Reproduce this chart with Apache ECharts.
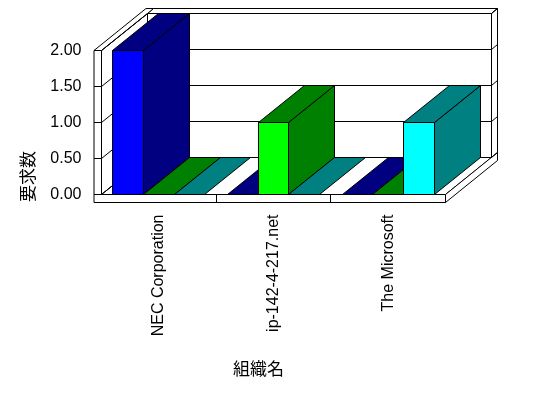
<!DOCTYPE html>
<html>
<head>
<meta charset="utf-8">
<script src="https://cdn.jsdelivr.net/npm/echarts@6/dist/echarts.min.js"></script>
<style>
html, body { margin: 0; padding: 0; background: #fff; }
#picture { width: 548px; height: 398px; }
</style>
</head>
<body>
<div id="picture"></div>
<script>
var categories = ['NEC Corporation', 'ip-142-4-217.net', 'The Microsoft'];
var series1 = [2, 0, 0];
var series2 = [0, 1, 0];
var series3 = [0, 0, 1];
var yTicks = [0, 0.5, 1, 1.5, 2];

var faceColors = ['#0000ff', '#00ff00', '#00ffff'];
var sideColors = ['#000080', '#008000', '#008080'];

// oblique 3d look
var DX = 46, DY = -37;      // depth offset
var TX = 6, TY = -5;        // back wall thickness
var WALL = 7.5, FLOOR = 8;  // left wall / floor thickness
var BAR_RATIO = 0.2667;

function px(v) { return Math.round(v - 0.5) + 0.5; }

function poly(pts, fill) {
    return { type: 'polygon', shape: { points: pts }, style: { fill: fill, stroke: '#000', lineWidth: 1 } };
}
function line(x1, y1, x2, y2) {
    return { type: 'line', shape: { x1: x1, y1: y1, x2: x2, y2: y2 }, style: { stroke: '#000', lineWidth: 1 } };
}

function renderFrame(params, api) {
    var n = categories.length;
    var cw = api.size([1, 0])[0];
    var x0 = px(api.coord([0, 0])[0] - cw / 2);
    var x1 = px(api.coord([n - 1, 0])[0] + cw / 2);
    var y0 = px(api.coord([0, yTicks[0]])[1]);
    var y1 = px(api.coord([0, yTicks[yTicks.length - 1]])[1]);
    var els = [];
    // back wall
    els.push(poly([[x0 + DX, y1 + DY], [x1 + DX, y1 + DY], [x1 + DX, y0 + DY], [x0 + DX, y0 + DY]], '#fff'));
    els.push(poly([[x0 + DX, y1 + DY], [x1 + DX, y1 + DY], [x1 + DX + TX, y1 + DY + TY], [x0 + DX + TX, y1 + DY + TY]], '#fff'));
    els.push(poly([[x1 + DX, y1 + DY], [x1 + DX + TX, y1 + DY + TY], [x1 + DX + TX, y0 + DY + TY], [x1 + DX, y0 + DY]], '#fff'));
    // left wall inner side
    els.push(poly([[x0, y1], [x0 + DX, y1 + DY], [x0 + DX, y0 + DY], [x0, y0]], '#fff'));
    // floor
    els.push(poly([[x0, y0], [x1, y0], [x1 + DX, y0 + DY], [x0 + DX, y0 + DY]], '#fff'));
    els.push(poly([[x1, y0], [x1 + DX + TX, y0 + DY + TY], [x1 + DX + TX, y0 + FLOOR + DY + TY], [x1, y0 + FLOOR]], '#fff'));
    // left wall top
    els.push(poly([[x0 - WALL, y1], [x0, y1], [x0 + DX, y1 + DY], [x0 + DX + TX, y1 + DY + TY], [x0 - WALL + DX + TX, y1 + DY + TY]], '#fff'));
    // front of left wall + floor
    els.push(poly([[x0 - WALL, y1], [x0, y1], [x0, y0], [x1, y0], [x1, y0 + FLOOR], [x0 - WALL, y0 + FLOOR]], '#fff'));

    yTicks.forEach(function (t) {
        var y = px(api.coord([0, t])[1]);
        els.push(line(x0 + DX, y + DY, x1 + DX, y + DY));
        els.push(line(x0, y, x0 + DX, y + DY));
        els.push(line(x1 + DX, y + DY, x1 + DX + TX, y + DY + TY));
        els.push(line(x0 - WALL, y, x0, y));
    });
    for (var i = 1; i < n; i++) {
        var xb = px(api.coord([i, 0])[0] - cw / 2);
        els.push(line(xb, y0, xb, y0 + FLOOR));
    }
    return { type: 'group', children: els };
}

var allSeries = [series1, series2, series3];
var barData = [];
categories.forEach(function (c, i) {
    allSeries.forEach(function (arr, s) {
        barData.push([i, arr[i], s]);
    });
});

function renderBar(params, api) {
    var ci = api.value(0), v = api.value(1), s = api.value(2);
    var cw = api.size([1, 0])[0];
    var bw = cw * BAR_RATIO;
    var left = api.coord([ci, 0])[0] - cw / 2 + (cw - 3 * bw) / 2 + s * bw;
    var L = px(left), R = px(left + bw);
    var yb = px(api.coord([ci, 0])[1]);
    var yt = px(api.coord([ci, v])[1]);
    var els = [];
    if (v > 0) {
        els.push(poly([[R, yt], [R + DX, yt + DY], [R + DX, yb + DY], [R, yb]], sideColors[s]));
    }
    els.push(poly([[L, yt], [R, yt], [R + DX, yt + DY], [L + DX, yt + DY]], sideColors[s]));
    if (v > 0) {
        els.push(poly([[L, yt], [R, yt], [R, yb], [L, yb]], faceColors[s]));
    }
    return { type: 'group', children: els };
}

var myChart = echarts.init(document.getElementById('picture'));
var option = {
    backgroundColor: '#fff',
    animation: false,
    grid: { left: 101.5, top: 50.5, width: 344, height: 144 },
    xAxis: {
        type: 'category',
        data: categories,
        axisLine: { show: false },
        axisTick: { show: false },
        axisLabel: {
            interval: 0, rotate: 90, margin: 20,
            color: '#000', fontSize: 16, fontFamily: 'Liberation Sans'
        },
        name: '組織名',
        nameLocation: 'middle',
        nameGap: 166,
        nameTextStyle: { color: '#000', fontSize: 17, fontFamily: 'Noto Sans CJK JP', padding: [0, 30, 0, 0] }
    },
    yAxis: {
        type: 'value',
        min: yTicks[0],
        max: yTicks[yTicks.length - 1],
        interval: 0.5,
        axisLine: { show: false },
        axisTick: { show: false },
        splitLine: { show: false },
        axisLabel: {
            margin: 20, color: '#000', fontSize: 16, fontFamily: 'Liberation Sans',
            formatter: function (v) { return v.toFixed(2); }
        },
        name: '要求数',
        nameLocation: 'middle',
        nameRotate: 90,
        nameGap: 65,
        nameTextStyle: { color: '#000', fontSize: 17, fontFamily: 'Noto Sans CJK JP', padding: [0, 108, 0, 0] }
    },
    series: [
        {
            name: 'frame',
            type: 'custom',
            silent: true,
            renderItem: renderFrame,
            data: [[0, 0]],
            z: 1
        },
        {
            name: 'bars',
            type: 'custom',
            silent: true,
            renderItem: renderBar,
            encode: { x: 0, y: 1 },
            data: barData,
            z: 2
        }
    ]
};
myChart.setOption(option);
</script>
</body>
</html>
